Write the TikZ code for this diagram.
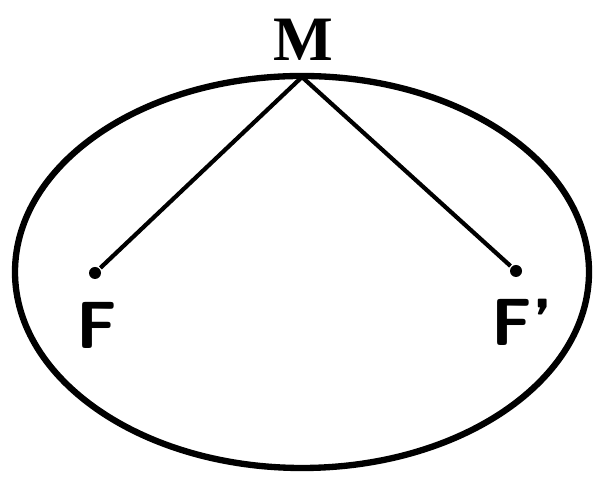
\documentclass[tikz,border=0pt]{standalone}
\usepackage{amsmath}
\usepackage{xcolor}
\usepackage{fontspec}
\newfontfamily\mfont{Liberation Serif}

\begin{document}
\begin{tikzpicture}[
  thick,
  focus/.style={circle,fill,inner sep=0pt,minimum size=0.12cm},
  lbl/.style={font=\fontsize{19}{19}\selectfont\sffamily\bfseries,inner sep=0pt}
]
  \useasboundingbox (0,0) rectangle (5.95,4.77);
  \draw[line width=1.8pt] (3.02,2.05) ellipse [x radius=2.87,y radius=1.96];
  \coordinate (m) at (3.02,4.00);
  \node[focus] (f1) at (0.95,2.04) {};
  \node[focus] (f2) at (5.16,2.06) {};
  \node[inner sep=0pt,font=\fontsize{18}{18}\selectfont\mfont\bfseries] (lm) at (3.03,4.37) {M};
  \node[lbl] (lf1) at (0.97,1.52) {F};
  \node[lbl] (lf2) at (5.22,1.55) {F’};
  \draw[line width=1.2pt] (m) -- (f1);
  \draw[line width=1.2pt] (m) -- (f2);
\end{tikzpicture}
\end{document}
